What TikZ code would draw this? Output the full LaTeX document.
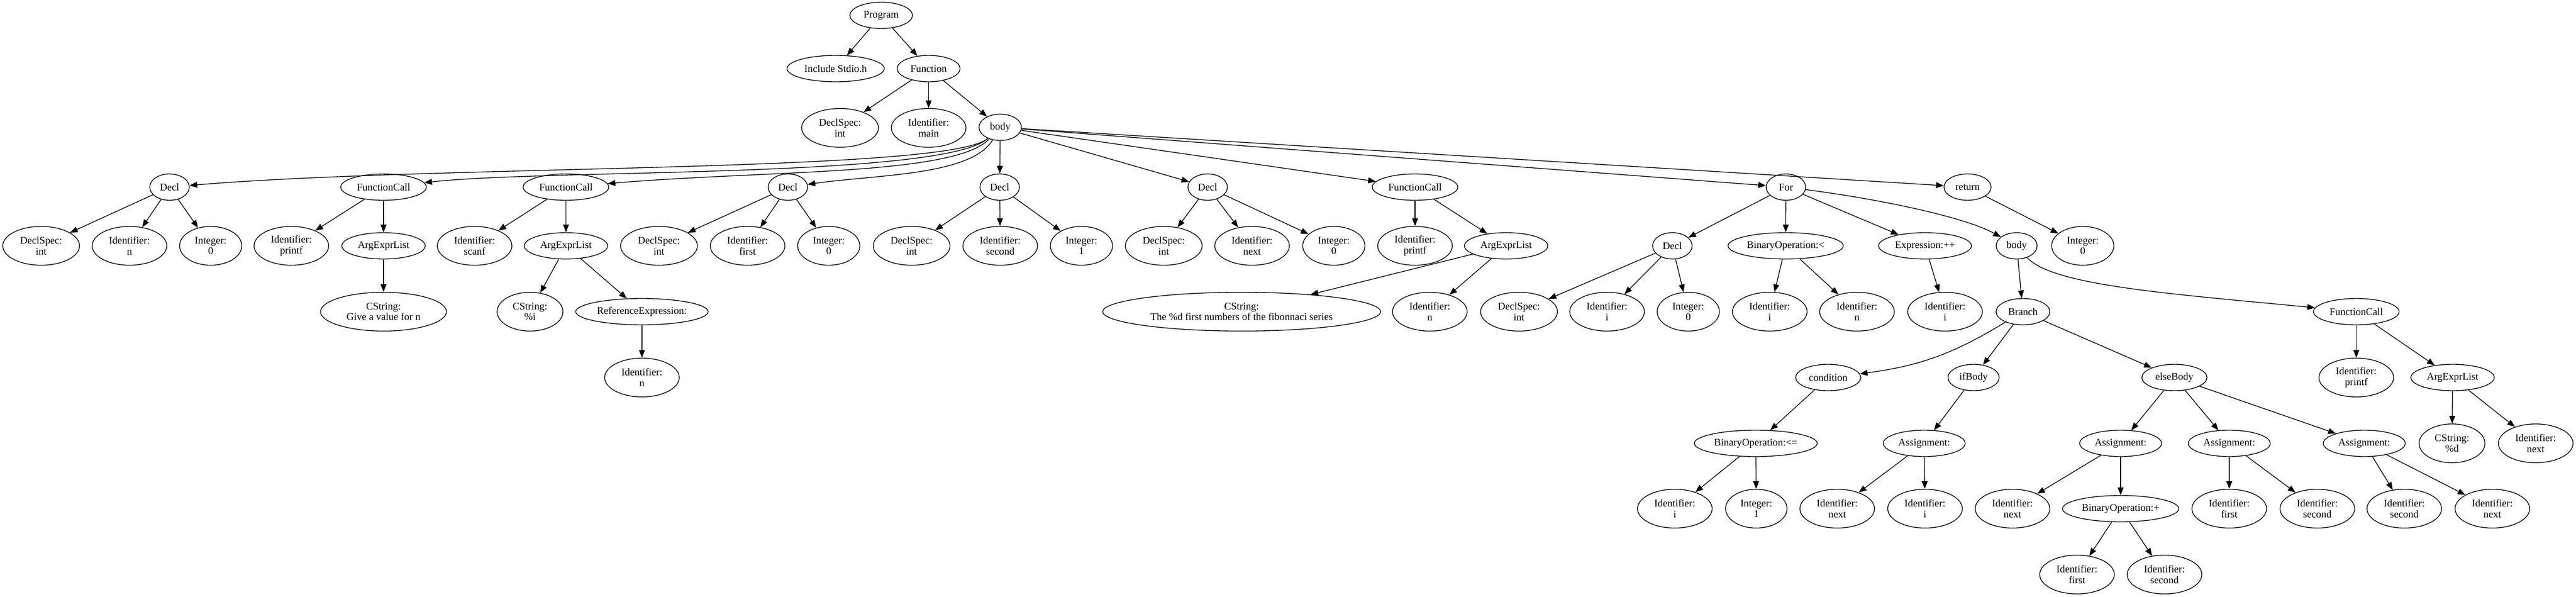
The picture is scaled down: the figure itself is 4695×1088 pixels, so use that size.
\documentclass[tikz,border=0pt]{standalone}
\usepackage{fontspec}
\setmainfont{Liberation Serif}
\usetikzlibrary{shapes.geometric,arrows.meta}

\tikzset{
	nd/.style={ellipse,draw,inner sep=0pt,minimum height=36pt,minimum width=#1,align=center,font=\fontsize{14pt}{14.5pt}\selectfont},
	nd/.default=54pt,
	leaf/.style={nd=#1,minimum height=53pt},
	leaf/.default=102pt
}

\begin{document}
\begin{tikzpicture}[x=0.75pt,y=-0.75pt,line width=1pt,>={Triangle[length=10.5pt,width=8pt]}]
	\useasboundingbox (0,0) rectangle (4695,1088);

	\node[nd=85.5pt] (prog) at (1606,28) {Program};
	\node[nd=133pt] (incl) at (1523,125) {Include Stdio.h};
	\node[nd=86pt] (func) at (1692.5,125) {Function};
	\node[leaf=105pt] (fspec) at (1531,233) {DeclSpec:\\int};
	\node[leaf] (fname) at (1692.5,233) {Identifier:\\main};
	\node[nd=58pt] (body) at (1823,232) {body};

	\node[nd] (decla) at (309,341) {Decl};
	\node[nd=117pt] (calla) at (699,341) {FunctionCall};
	\node[nd=117pt] (callb) at (1031.5,341) {FunctionCall};
	\node[nd] (declb) at (1436,341) {Decl};
	\node[nd] (declc) at (1822,341) {Decl};
	\node[nd] (decld) at (2201,341) {Decl};
	\node[nd=117pt] (callc) at (2579,341) {FunctionCall};
	\node[nd] (loop) at (3255,341) {For};
	\node[nd=64.5pt] (ret) at (3586,341) {return};

	\node[leaf=105pt] (daspec) at (75,448) {DeclSpec:\\int};
	\node[leaf] (daid) at (236,448) {Identifier:\\n};
	\node[leaf=85pt] (daval) at (384,448) {Integer:\\0};
	\node[leaf] (caid) at (531,448) {Identifier:\\printf};
	\node[nd=114pt] (caargs) at (699,448) {ArgExprList};
	\node[leaf] (cbid) at (865,448) {Identifier:\\scanf};
	\node[nd=114pt] (cbargs) at (1031.5,448) {ArgExprList};
	\node[leaf=105pt] (dbspec) at (1201,448) {DeclSpec:\\int};
	\node[leaf] (dbid) at (1362.5,448) {Identifier:\\first};
	\node[leaf=85pt] (dbval) at (1510.5,448) {Integer:\\0};
	\node[leaf=105pt] (dcspec) at (1661.5,448) {DeclSpec:\\int};
	\node[leaf] (dcid) at (1823,448) {Identifier:\\second};
	\node[leaf=85pt] (dcval) at (1971,448) {Integer:\\1};
	\node[leaf=105pt] (ddspec) at (2121,448) {DeclSpec:\\int};
	\node[leaf] (ddid) at (2282,448) {Identifier:\\next};
	\node[leaf=85pt] (ddval) at (2431,448) {Integer:\\0};
	\node[leaf] (ccid) at (2579,448) {Identifier:\\printf};
	\node[nd=114pt] (ccargs) at (2745,448) {ArgExprList};
	\node[nd] (ldecl) at (3048,448) {Decl};
	\node[nd=157.5pt] (lcond) at (3254.5,448) {BinaryOperation:<};
	\node[nd=127pt] (lstep) at (3508.5,448) {Expression:++};
	\node[nd=56pt] (lbody) at (3675.5,448) {body};
	\node[leaf=85pt] (rval) at (3796,448) {Integer:\\0};

	\node[leaf=172pt] (castr) at (699,568) {CString:\\Give a value for n};
	\node[leaf=90pt] (cbstr) at (966,568) {CString:\\\%i};
	\node[nd=181pt] (cbref) at (1170,568) {ReferenceExpression:};
	\node[leaf=380pt] (ccstr) at (2263,568) {CString:\\The \%d first numbers of the fibonnaci series};
	\node[leaf] (ccn) at (2606,568) {Identifier:\\n};
	\node[leaf=105pt] (ldspec) at (2768.5,568) {DeclSpec:\\int};
	\node[leaf] (ldid) at (2929,568) {Identifier:\\i};
	\node[leaf=85pt] (ldval) at (3077,568) {Integer:\\0};
	\node[leaf] (lcid) at (3225.5,568) {Identifier:\\i};
	\node[leaf] (lcn) at (3384.5,568) {Identifier:\\n};
	\node[leaf] (lsid) at (3545,568) {Identifier:\\i};
	\node[nd=73.5pt] (br) at (3687,568) {Branch};
	\node[nd=117pt] (pcall) at (4294.5,568) {FunctionCall};

	\node[leaf] (cbrefid) at (1170,688) {Identifier:\\n};
	\node[nd=89pt] (cond) at (3332,688) {condition};
	\node[nd=70pt] (ifb) at (3597,688) {ifBody};
	\node[nd=89pt] (elseb) at (3963,688) {elseBody};
	\node[leaf] (pcid) at (4294.5,688) {Identifier:\\printf};
	\node[nd=114pt] (pcargs) at (4470,688) {ArgExprList};

	\node[nd=168pt] (le) at (3200,808) {BinaryOperation:<=};
	\node[nd=112pt] (asa) at (3507,808) {Assignment:};
	\node[nd=112pt] (asb) at (3865,808) {Assignment:};
	\node[nd=112pt] (asc) at (4063,808) {Assignment:};
	\node[nd=112pt] (asd) at (4309,808) {Assignment:};
	\node[leaf=90pt] (pcstr) at (4469,808) {CString:\\\%d};
	\node[leaf] (pcnext) at (4621.5,808) {Identifier:\\next};

	\node[leaf] (leid) at (3052.5,927) {Identifier:\\i};
	\node[leaf=84pt] (leval) at (3201,927) {Integer:\\1};
	\node[leaf] (asaid) at (3348.5,927) {Identifier:\\next};
	\node[leaf] (asaval) at (3508.5,927) {Identifier:\\i};
	\node[leaf] (asbid) at (3668,927) {Identifier:\\next};
	\node[nd=159pt] (plus) at (3865,927) {BinaryOperation:+};
	\node[leaf] (ascid) at (4063,927) {Identifier:\\first};
	\node[leaf] (ascval) at (4223.5,927) {Identifier:\\second};
	\node[leaf] (asdid) at (4382,927) {Identifier:\\second};
	\node[leaf] (asdval) at (4542.5,927) {Identifier:\\next};

	\node[leaf] (plusa) at (3785.5,1047) {Identifier:\\first};
	\node[leaf] (plusb) at (3945,1047) {Identifier:\\second};

	\draw[->] (prog) edge (incl) edge (func);
	\draw[->] (func) edge (fspec) edge (fname) edge (body);
	\draw[->] (body) .. controls (1730,315) and (800,300) .. (decla);
	\draw[->] (body) .. controls (1720,325) and (1000,308) .. (calla);
	\draw[->] (body) .. controls (1740,320) and (1400,310) .. (callb);
	\draw[->] (body) .. controls (1770,320) and (1600,318) .. (declb);
	\draw[->] (body) edge (declc) edge (decld) edge (callc) edge (loop) edge (ret);

	\draw[->] (decla) edge (daspec) edge (daid) edge (daval);
	\draw[->] (calla) edge (caid) edge (caargs);
	\draw[->] (caargs) edge (castr);
	\draw[->] (callb) edge (cbid) edge (cbargs);
	\draw[->] (cbargs) edge (cbstr) edge (cbref);
	\draw[->] (cbref) edge (cbrefid);
	\draw[->] (declb) edge (dbspec) edge (dbid) edge (dbval);
	\draw[->] (declc) edge (dcspec) edge (dcid) edge (dcval);
	\draw[->] (decld) edge (ddspec) edge (ddid) edge (ddval);
	\draw[->] (callc) edge (ccid) edge (ccargs);
	\draw[->] (ccargs) edge (ccstr) edge (ccn);

	\draw[->] (loop) edge (ldecl) edge (lcond) edge (lstep);
	\draw[->] (loop) .. controls (3420,362) and (3580,395) .. (lbody);
	\draw[->] (ldecl) edge (ldspec) edge (ldid) edge (ldval);
	\draw[->] (lcond) edge (lcid) edge (lcn);
	\draw[->] (lstep) edge (lsid);
	\draw[->] (lbody) edge (br);
	\draw[->] (lbody) .. controls (3740,520) and (3950,535) .. (pcall);
	\draw[->] (br) edge[bend left=12] (cond) edge (ifb) edge (elseb);
	\draw[->] (cond) edge (le);
	\draw[->] (le) edge (leid) edge (leval);
	\draw[->] (ifb) edge (asa);
	\draw[->] (asa) edge (asaid) edge (asaval);
	\draw[->] (elseb) edge (asb) edge (asc) edge (asd);
	\draw[->] (asb) edge (asbid) edge (plus);
	\draw[->] (plus) edge (plusa) edge (plusb);
	\draw[->] (asc) edge (ascid) edge (ascval);
	\draw[->] (asd) edge (asdid) edge (asdval);
	\draw[->] (pcall) edge (pcid) edge (pcargs);
	\draw[->] (pcargs) edge (pcstr) edge (pcnext);
	\draw[->] (ret) edge (rval);

\end{tikzpicture}
\end{document}
